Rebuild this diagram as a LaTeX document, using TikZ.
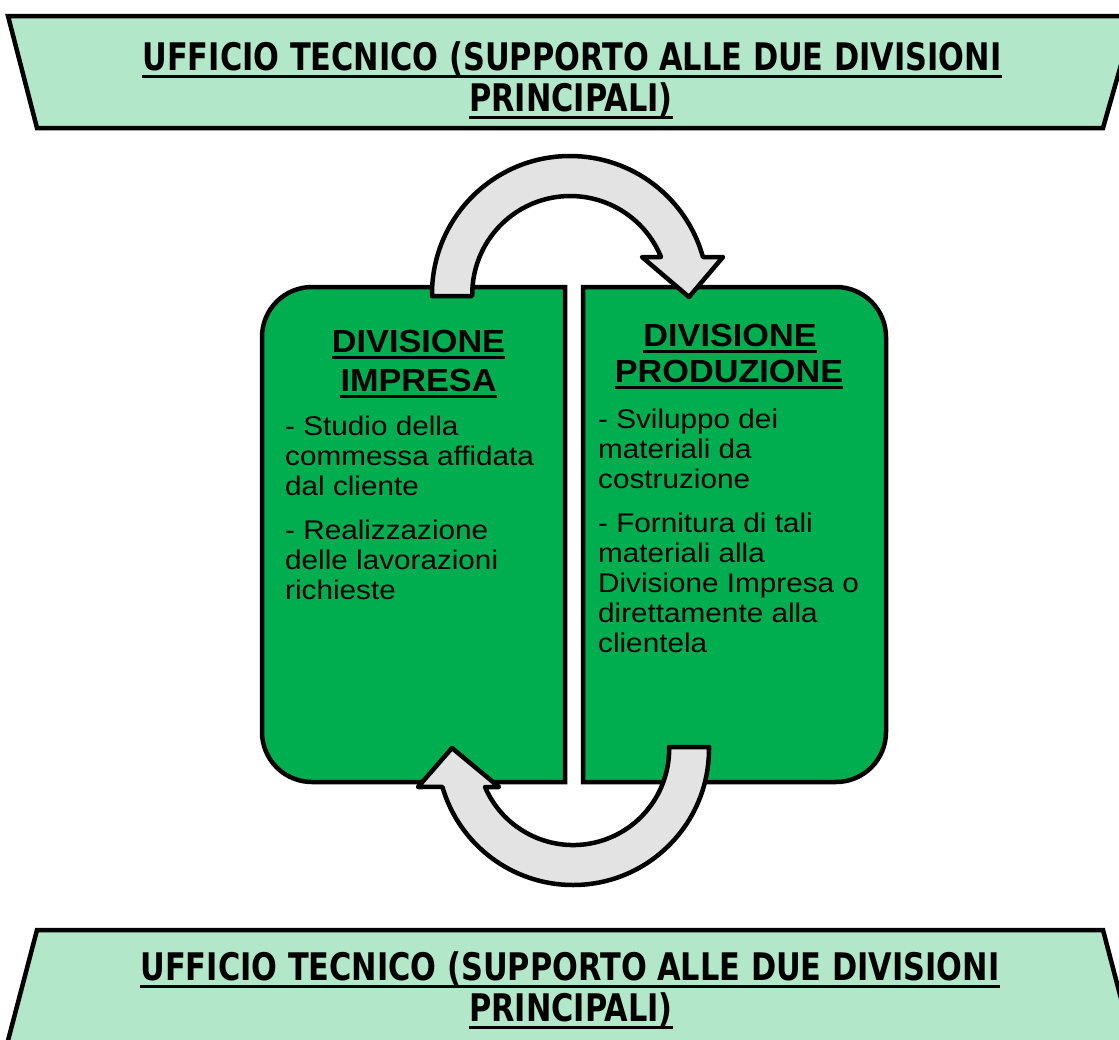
\documentclass[tikz,border=0pt]{standalone}
\usepackage{fontspec}
\setmainfont{Liberation Sans}
\newfontfamily\bodyfont[FakeStretch=1.1]{Liberation Sans}
\newfontfamily\titlefont[FakeStretch=1.07]{Liberation Sans}
\newfontfamily\bannerfont[FakeStretch=0.8]{DejaVu Sans}
\definecolor{bannergreen}{HTML}{B2E8C9}
\definecolor{boxgreen}{HTML}{00AE50}
\definecolor{arrowgray}{HTML}{E2E3E2}
\begin{document}
\begin{tikzpicture}[x=1pt,y=-1pt,
  banner/.style={fill=bannergreen, draw=black, line width=4.5pt},
  divbox/.style={fill=boxgreen, draw=black, line width=4.5pt},
  bigarrow/.style={fill=arrowgray, draw=black, line width=4.5pt, line join=round},
  bannertext/.style={inner sep=0pt, anchor=base, font=\bannerfont\bfseries\fontsize{38}{40}\selectfont},
  titletext/.style={inner sep=0pt, anchor=base, font=\titlefont\bfseries\fontsize{32}{38}\selectfont},
  bodytext/.style={inner sep=0pt, anchor=north west, align=left, font=\bodyfont\fontsize{27}{30}\selectfont},
  bannerul/.style={line width=3.5pt},
  titleul/.style={line width=3pt}]
\useasboundingbox (0,0) rectangle (1119,1039);
\clip (0,0) rectangle (1119,1039);

% banners
\draw[banner] (8,16) -- (1135,16) -- (1103,128) -- (37,128) -- cycle;
\draw[banner] (37,930) -- (1103,930) -- (1135,1052) -- (5,1052) -- cycle;

\node[bannertext] (t1) at (572,70) {UFFICIO TECNICO (SUPPORTO ALLE DUE DIVISIONI};
\node[bannertext] (t2) at (571,111) {PRINCIPALI)};
\node[bannertext] (b1) at (570,980) {UFFICIO TECNICO (SUPPORTO ALLE DUE DIVISIONI};
\node[bannertext] (b2) at (571,1021) {PRINCIPALI)};
\foreach \n in {t1,t2,b1,b2}
  \draw[bannerul] ([yshift=-6.5pt]\n.base west) -- ([yshift=-6.5pt]\n.base east);

% division boxes
\draw[divbox] (565,287) -- (312,287) arc[start angle=270,end angle=180,radius=50]
  -- (262,732) arc[start angle=180,end angle=90,radius=50] -- (565,782) -- cycle;
\draw[divbox] (583,287) -- (836,287) arc[start angle=270,end angle=360,radius=50]
  -- (886,732) arc[start angle=0,end angle=90,radius=50] -- (583,782) -- cycle;

\node[titletext] (l1) at (418.5,352) {DIVISIONE};
\node[titletext] (l2) at (418.5,391) {IMPRESA};
\node[titletext] (r1) at (730,346) {DIVISIONE};
\node[titletext] (r2) at (729,382) {PRODUZIONE};
\foreach \n in {l1,l2,r1,r2}
  \draw[titleul] ([yshift=-5.5pt]\n.base west) -- ([yshift=-5.5pt]\n.base east);

\node[bodytext] (lbody) at (285,416) {- Studio della\\commessa affidata\\dal cliente\\[14pt]- Realizzazione\\delle lavorazioni\\richieste};
\node[bodytext] (rbody) at (598,409) {- Sviluppo dei\\materiali da\\costruzione\\[14pt]- Fornitura di tali\\materiali alla\\Divisione Impresa o\\direttamente alla\\clientela};

% cycle arrows
\draw[bigarrow] (432,296) -- (432,294) arc[start angle=180,end angle=344.5,radius=138]
  -- (723,257) -- (689,297) -- (642,257) -- (661,257)
  arc[start angle=337.8,end angle=180,radius=98] -- (472,296) -- cycle;
\draw[bigarrow] (709,747) -- (709,749) arc[start angle=0,end angle=163.8,radius=136]
  -- (418,787) -- (452,748) -- (499,787) -- (485,787)
  arc[start angle=156.7,end angle=0,radius=96] -- (669,747) -- cycle;
\end{tikzpicture}
\end{document}
